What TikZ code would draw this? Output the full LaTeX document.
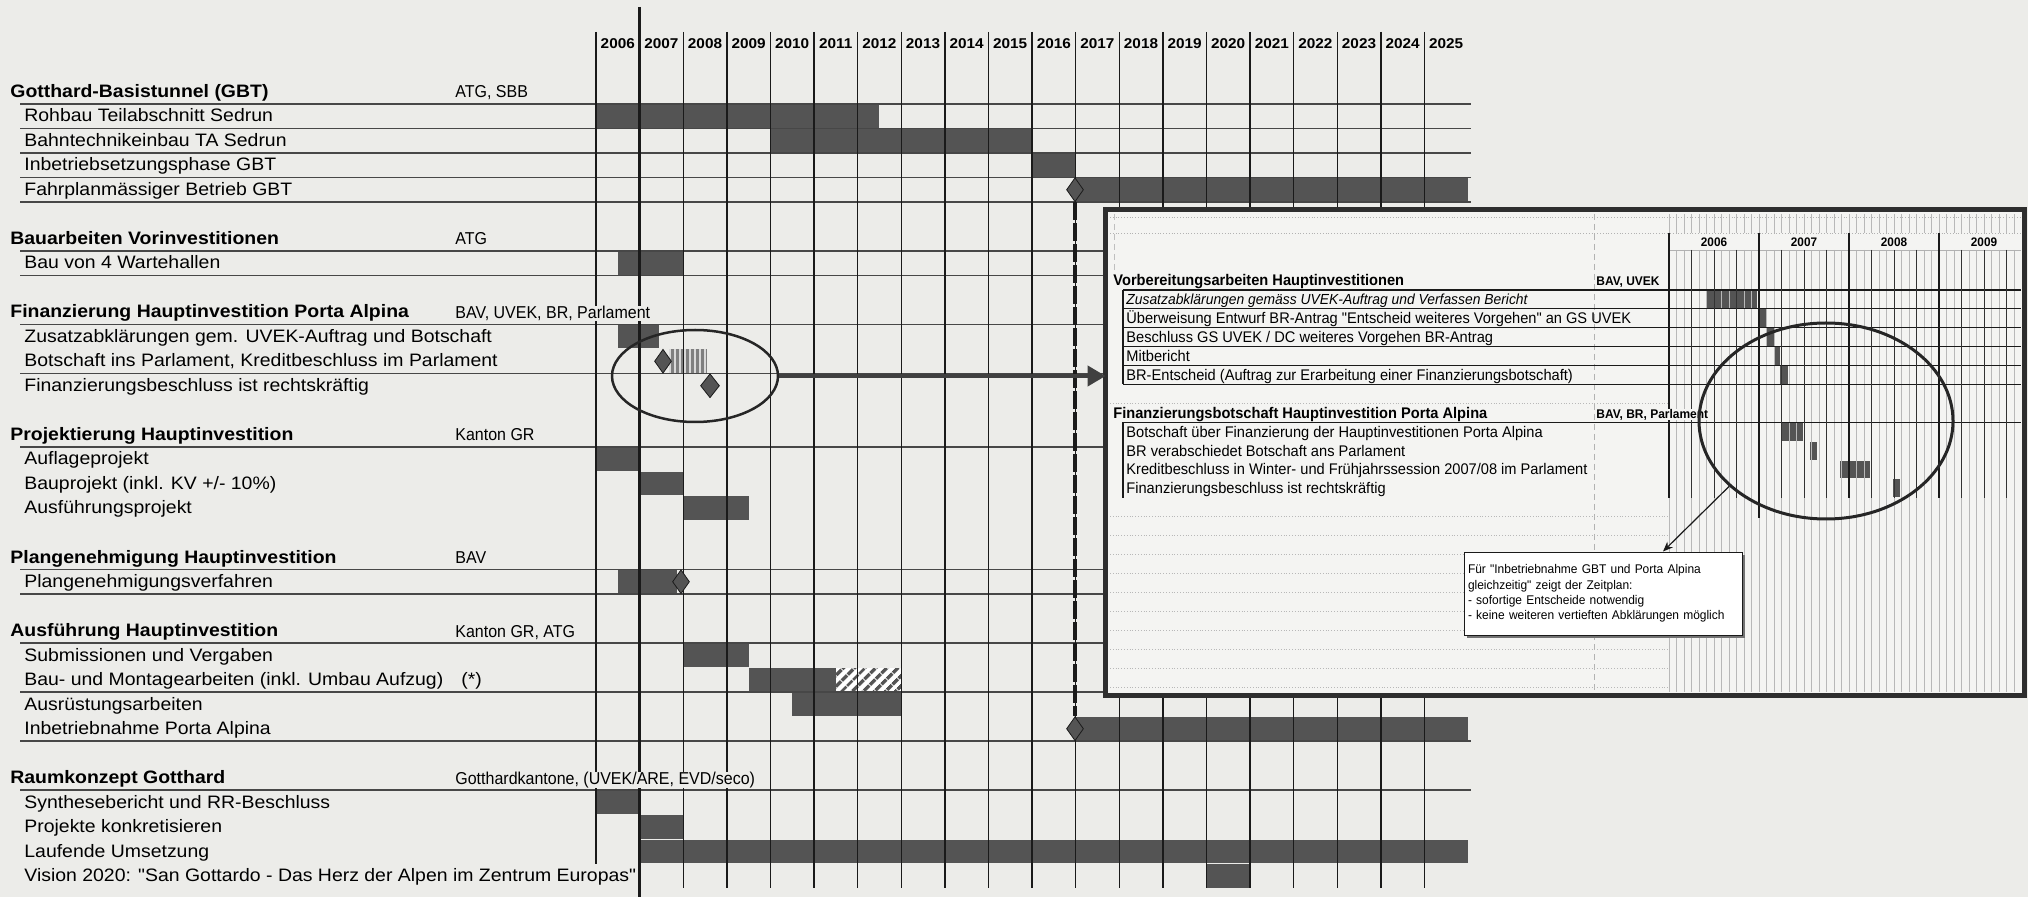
\documentclass[tikz,border=0pt]{standalone}
\usepackage{fontspec}
\setmainfont{Liberation Sans}
\newfontfamily\chartfont[FakeStretch=1.08]{Liberation Sans}
\newfontfamily\respfont[FakeStretch=0.93]{Liberation Sans}
\newfontfamily\insetfont[FakeStretch=0.95]{Liberation Sans}
\usetikzlibrary{positioning,patterns.meta,shapes.geometric,arrows.meta,shadows}

\definecolor{bg}{RGB}{236,236,233}
\definecolor{insetbg}{RGB}{244,244,242}
\definecolor{bargray}{RGB}{84,84,84}
\definecolor{ink}{RGB}{26,26,26}

% year -> x, row -> y (main chart), row -> y (inset)
\pgfmathdeclarefunction{yx}{1}{\pgfmathparse{596+(#1-2006)*43.6}}
\pgfmathdeclarefunction{ry}{1}{\pgfmathparse{104+(#1)*24.5}}
\pgfmathdeclarefunction{iy}{1}{\pgfmathparse{290+(#1)*18.9}}

\newcommand\gbar[3]{\fill[bargray] ({yx(#2)},{ry(#1)+0.5}) rectangle ({yx(#3)},{ry(#1+1)-0.5});}
\newcommand\ibar[3]{\fill[bargray] (#2,{iy(#1)+0.5}) rectangle (#3,{iy(#1+1)-0.5});}

\tikzset{
  grp/.style={anchor=base west, inner sep=0pt, font=\chartfont\bfseries\fontsize{9}{10}\selectfont},
  task/.style={anchor=base west, inner sep=0pt, font=\chartfont\fontsize{9}{10}\selectfont},
  resp/.style={anchor=base west, inner xsep=1pt, inner ysep=0pt, fill=bg, font=\respfont\fontsize{8.6}{9}\selectfont},
  yearlab/.style={anchor=base, inner sep=0pt, font=\chartfont\bfseries\fontsize{7.1}{8}\selectfont},
  ms/.style={diamond, draw=ink, line width=0.4pt, fill=bargray, inner sep=0pt, minimum width=8.5pt, minimum height=12pt},
  gridv/.style={ink, line width=0.7pt},
  gridh/.style={black!72, line width=0.7pt},
  critline/.style={ink, line width=2pt, dash pattern=on 9pt off 1.5pt},
  ring/.style={ellipse, draw=black!85, inner sep=0pt},
  bigarrow/.style={black!75, line width=2pt, -{Triangle[length=9pt,width=10pt]}},
  itask/.style={anchor=base west, inner sep=0pt, font=\insetfont\fontsize{7.7}{9}\selectfont},
  igrp/.style={anchor=base west, inner sep=0pt, font=\insetfont\bfseries\fontsize{7.7}{9}\selectfont},
  iresp/.style={anchor=base west, inner xsep=0.5pt, inner ysep=0pt, fill=insetbg, font=\insetfont\bfseries\fontsize{6.3}{7}\selectfont},
  iyear/.style={anchor=base, inner sep=0pt, font=\insetfont\bfseries\fontsize{6.2}{7}\selectfont},
  note/.style={draw=ink, line width=0.5pt, fill=white, align=left, inner xsep=2pt, text width=135pt,
    minimum height=41.5pt, font=\insetfont\fontsize{6.3}{7.65}\selectfont,
    drop shadow={shadow xshift=1.5pt, shadow yshift=-1.5pt, fill=black!55, opacity=1}}
}

\begin{document}
\begin{tikzpicture}[x=0.5pt,y=-0.5pt]
\fill[bg] (0,0) rectangle (2028,897);
\useasboundingbox (0,0) rectangle (2028,897);

% bars
\gbar{0}{2006}{2012.5}
\gbar{1}{2010}{2016}
\gbar{2}{2016}{2017}
\gbar{3}{2017}{2026}
\gbar{6}{2006.5}{2008}
\gbar{9}{2006.5}{2007.45}
\fill[bargray!75] ({yx(2007.67)},{ry(10)+0.5}) rectangle ({yx(2008.55)},{ry(11)-0.5});
\fill[pattern={Lines[angle=90,distance=2.5pt,line width=0.6pt]}, pattern color=white!85!black]
  ({yx(2007.67)},{ry(10)+0.5}) rectangle ({yx(2008.55)},{ry(11)-0.5});
\gbar{14}{2006}{2007}
\gbar{15}{2007}{2008}
\gbar{16}{2008}{2009.5}
\gbar{19}{2006.5}{2007.85}
\gbar{22}{2008}{2009.5}
\gbar{23}{2009.5}{2011.5}
\fill[white] ({yx(2011.5)},{ry(23)+0.5}) rectangle ({yx(2013)},{ry(24)-0.5});
\fill[pattern={Lines[angle=45,distance=4pt,line width=1.8pt]}, pattern color=bargray]
  ({yx(2011.5)},{ry(23)+0.5}) rectangle ({yx(2013)},{ry(24)-0.5});
\gbar{24}{2010.5}{2013}
\gbar{25}{2017}{2026}
\gbar{28}{2006}{2007}
\gbar{29}{2007}{2008}
\gbar{30}{2007}{2026}
\gbar{31}{2020}{2021}

% grid
\foreach \r in {0,...,4,6,7,9,...,12,14,...,17,19,20,22,...,26,28,...,32}
  \draw[gridh] (20,{ry(\r)}) -- (1471,{ry(\r)});
\foreach \y in {2008,...,2025}
  \draw[gridv] ({yx(\y)},32) -- ({yx(\y)},888);
\draw[gridv] ({yx(2006)},32) -- ({yx(2006)},{ry(31)});
\draw[ink, line width=1.5pt] ({yx(2007)},7) -- ({yx(2007)},897);
\foreach \y in {2006,...,2025}
  \node[yearlab] (yr\y) at ({yx(\y+0.5)},48.3) {\y};

% milestones
\node[ms] (msgbt) at (1075,{ry(3.5)}) {};
\node[ms] (mspa) at (1075,{ry(25.5)}) {};
\node[ms] (msbot) at (663,{ry(10.5)}) {};
\node[ms, minimum width=9.5pt] (msfin) at (710,{ry(11.5)}) {};
\node[ms] (msplan) at (681,{ry(19.5)}) {};
\draw[critline] (msgbt.south) -- (mspa.north);

% labels
\node[grp] (g1) at (10,{ry(0)-6.5}) {Gotthard-Basistunnel (GBT)};
\node[resp] (r1) at (453,{ry(0)-6}) {ATG, SBB};
\node[task] (t0) at (24,{ry(1)-6.5}) {Rohbau Teilabschnitt Sedrun};
\node[task] (t1) at (24,{ry(2)-6.5}) {Bahntechnikeinbau TA Sedrun};
\node[task] (t2) at (24,{ry(3)-6.5}) {Inbetriebsetzungsphase GBT};
\node[task] (t3) at (24,{ry(4)-6.5}) {Fahrplanmässiger Betrieb GBT};

\node[grp] (g2) at (10,{ry(6)-6.5}) {Bauarbeiten Vorinvestitionen};
\node[resp] (r2) at (453,{ry(6)-6}) {ATG};
\node[task] (t6) at (24,{ry(7)-6.5}) {Bau von 4 Wartehallen};

\node[grp] (g3) at (10,{ry(9)-6.5}) {Finanzierung Hauptinvestition Porta Alpina};
\node[resp] (r3) at (453,{ry(9)-6}) {BAV, UVEK, BR, Parlament};
\node[task] (t9) at (24,{ry(10)-6.5}) {Zusatzabklärungen gem. UVEK-Auftrag und Botschaft};
\node[task] (t10) at (24,{ry(11)-6.5}) {Botschaft ins Parlament, Kreditbeschluss im Parlament};
\node[task] (t11) at (24,{ry(12)-6.5}) {Finanzierungsbeschluss ist rechtskräftig};

\node[grp] (g4) at (10,{ry(14)-6.5}) {Projektierung Hauptinvestition};
\node[resp] (r4) at (453,{ry(14)-6}) {Kanton GR};
\node[task] (t14) at (24,{ry(15)-6.5}) {Auflageprojekt};
\node[task] (t15) at (24,{ry(16)-6.5}) {Bauprojekt (inkl. KV +/- 10\%)};
\node[task] (t16) at (24,{ry(17)-6.5}) {Ausführungsprojekt};

\node[grp] (g5) at (10,{ry(19)-6.5}) {Plangenehmigung Hauptinvestition};
\node[resp] (r5) at (453,{ry(19)-6}) {BAV};
\node[task] (t19) at (24,{ry(20)-6.5}) {Plangenehmigungsverfahren};

\node[grp] (g6) at (10,{ry(22)-6.5}) {Ausführung Hauptinvestition};
\node[resp] (r6) at (453,{ry(22)-6}) {Kanton GR, ATG};
\node[task] (t22) at (24,{ry(23)-6.5}) {Submissionen und Vergaben};
\node[task] (t23) at (24,{ry(24)-6.5}) {Bau- und Montagearbeiten (inkl. Umbau Aufzug)};
\node[task] (t23b) at (461,{ry(24)-6.5}) {(*)};
\node[task] (t24) at (24,{ry(25)-6.5}) {Ausrüstungsarbeiten};
\node[task] (t25) at (24,{ry(26)-6.5}) {Inbetriebnahme Porta Alpina};

\node[grp] (g7) at (10,{ry(28)-6.5}) {Raumkonzept Gotthard};
\node[resp] (r7) at (453,{ry(28)-6}) {Gotthardkantone, (UVEK/ARE, EVD/seco)};
\node[task] (t28) at (24,{ry(29)-6.5}) {Synthesebericht und RR-Beschluss};
\node[task] (t29) at (24,{ry(30)-6.5}) {Projekte konkretisieren};
\node[task] (t30) at (24,{ry(31)-6.5}) {Laufende Umsetzung};
\node[task] (t31) at (24,{ry(32)-6.5}) {Vision 2020: "San Gottardo - Das Herz der Alpen im Zentrum Europas"};

\node[ring, line width=1.25pt, minimum width=83pt, minimum height=46pt] (ellfin) at (695,376) {};

% inset: detail schedule
\node[fill=insetbg, minimum width=459pt, minimum height=242.5pt, inner sep=0pt] (inset) at (1565,452.5) {};
\ibar{0}{1706}{1757}
\ibar{1}{1759}{1766}
\ibar{2}{1766}{1775}
\ibar{3}{1775}{1780}
\ibar{4}{1780}{1788}
\ibar{7}{1782}{1803}
\ibar{8}{1810}{1817}
\ibar{9}{1840}{1870}
\ibar{10}{1893}{1900}
\foreach \k in {0,...,46} {
  \draw[black!28, line width=0.3pt] ({1669+\k*7.5},214) -- ({1669+\k*7.5},233);
  \draw[black!28, line width=0.3pt] ({1669+\k*7.5},250) -- ({1669+\k*7.5},692);
}
\draw[black!30, densely dashed, line width=0.3pt] (1594,214) -- (1594,692);
\draw[black!25, densely dashed, line width=0.3pt] (1114,214) -- (1114,270);
\foreach \yy in {217,233}
  \draw[black!30, densely dotted, line width=0.4pt] (1110,\yy) -- (2021,\yy);
\draw[black!30, line width=0.4pt] (1669,250) -- (2021,250);
\foreach \r in {6,12,13,...,21}
  \draw[black!28, densely dotted, line width=0.4pt] (1110,{iy(\r)}) -- (1669,{iy(\r)});
\foreach \r in {0,...,5,7,...,11}
  \draw[ink, line width=0.6pt] (1123,{iy(\r)}) -- (2021,{iy(\r)});
\draw[ink, line width=0.6pt] (1123,{iy(0)}) -- (1123,{iy(5)});
\draw[ink, line width=0.6pt] (1123,{iy(7)}) -- (1123,{iy(11)});
\foreach \k in {1,2,3,5,6,7,9,10,11,13,14,15}
  \draw[black!80, line width=0.5pt] ({1669+\k*22.5},250) -- ({1669+\k*22.5},{iy(11)});
\foreach \k in {0,...,3}
  \draw[ink, line width=0.8pt] ({1669+\k*90},233) -- ({1669+\k*90},{iy(11)});
\draw[ink, line width=0.8pt] (1759,{iy(11)}) -- (1759,518);
\foreach \k/\y in {0/2006,1/2007,2/2008,3/2009}
  \node[iyear] (iyr\y) at ({1714+\k*90},247) {\y};

\node[igrp] (ig1) at (1113,{iy(0)-4}) {Vorbereitungsarbeiten Hauptinvestitionen};
\node[iresp] (ir1) at (1595,{iy(0)-4}) {BAV, UVEK};
\node[itask, font=\insetfont\itshape\fontsize{7.3}{9}\selectfont] (it0) at (1126,{iy(1)-4}) {Zusatzabklärungen gemäss UVEK-Auftrag und Verfassen Bericht};
\node[itask] (it1) at (1126,{iy(2)-4}) {Überweisung Entwurf BR-Antrag "Entscheid weiteres Vorgehen" an GS UVEK};
\node[itask] (it2) at (1126,{iy(3)-4}) {Beschluss GS UVEK / DC weiteres Vorgehen BR-Antrag};
\node[itask] (it3) at (1126,{iy(4)-4}) {Mitbericht};
\node[itask] (it4) at (1126,{iy(5)-4}) {BR-Entscheid (Auftrag zur Erarbeitung einer Finanzierungsbotschaft)};
\node[igrp] (ig2) at (1113,{iy(7)-4}) {Finanzierungsbotschaft Hauptinvestition Porta Alpina};
\node[iresp] (ir2) at (1595,{iy(7)-4}) {BAV, BR, Parlament};
\node[itask] (it7) at (1126,{iy(8)-4}) {Botschaft über Finanzierung der Hauptinvestitionen Porta Alpina};
\node[itask] (it8) at (1126,{iy(9)-4}) {BR verabschiedet Botschaft ans Parlament};
\node[itask] (it9) at (1126,{iy(10)-4}) {Kreditbeschluss in Winter- und Frühjahrssession 2007/08 im Parlament};
\node[itask] (it10) at (1126,{iy(11)-4}) {Finanzierungsbeschluss ist rechtskräftig};

\node[ring, line width=1.5pt, minimum width=127pt, minimum height=98pt] (ellzeit) at (1826,421) {};
\node[note] (note) at (1603,593.5) {Für "Inbetriebnahme GBT und Porta Alpina\\
gleichzeitig" zeigt der Zeitplan:\\
- sofortige Entscheide notwendig\\
- keine weiteren vertieften Abklärungen möglich};
\draw[ink, line width=0.6pt, -{Stealth[length=5pt,width=4pt]}] (ellzeit.214) -- (note.35);
\draw[black!82, line width=2.5pt] (inset.north west) rectangle (inset.south east);

\draw[bigarrow] (ellfin.east) -- (ellfin.east -| inset.west);
\end{tikzpicture}
\end{document}
